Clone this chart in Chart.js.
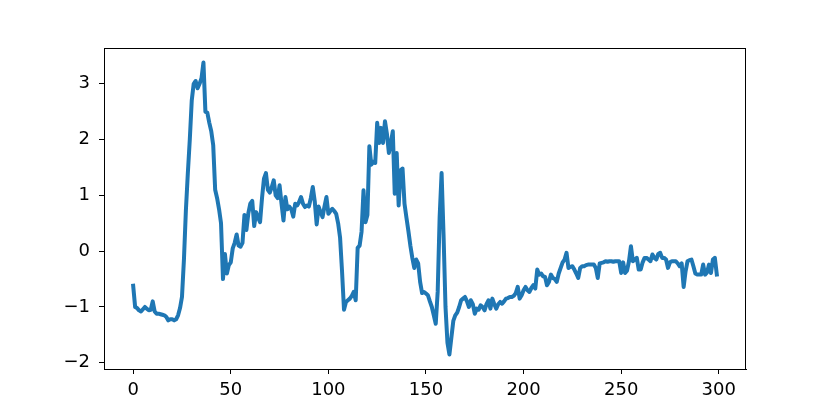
<!DOCTYPE html>
<html>
<head>
<meta charset="utf-8">
<script src="https://cdn.jsdelivr.net/npm/chart.js@4"></script>
<style>
  html, body { margin: 0; padding: 0; background: #fff; }
  canvas { display: block; }
</style>
</head>
<body>
<canvas id="c" width="830" height="415"></canvas>
<script>
const seriesValues = [
  -0.62, -1.00, -1.02, -1.06, -1.08, -1.04, -1.00, -1.03, -1.06, -1.05,
  -0.90, -1.08, -1.12, -1.12, -1.13, -1.14, -1.15, -1.18, -1.24, -1.22,
  -1.22, -1.24, -1.22, -1.15, -1.02, -0.82, -0.15, 0.73, 1.40, 2.00,
  2.70, 3.00, 3.05, 2.92, 3.00, 3.10, 3.38, 2.50, 2.48, 2.30,
  2.15, 1.90, 1.10, 0.95, 0.75, 0.50, -0.50, -0.05, -0.40, -0.25,
  -0.20, 0.05, 0.15, 0.30, 0.10, 0.08, 0.15, 0.65, 0.38, 0.68,
  0.85, 0.90, 0.45, 0.70, 0.60, 0.52, 0.95, 1.30, 1.40, 1.10,
  1.05, 1.15, 1.27, 1.00, 0.95, 1.18, 0.85, 0.55, 0.97, 0.75,
  0.80, 0.75, 0.62, 0.85, 0.82, 0.88, 0.97, 0.85, 0.79, 0.82,
  0.80, 0.95, 1.15, 0.90, 0.48, 0.80, 0.70, 0.61, 0.80, 0.97,
  0.67, 0.72, 0.76, 0.72, 0.67, 0.50, 0.24, -0.36, -1.05, -0.91,
  -0.88, -0.85, -0.80, -0.73, -0.88, 0.06, 0.10, 0.35, 1.09, 0.52,
  0.65, 1.88, 1.55, 1.60, 1.58, 2.30, 1.94, 2.21, 1.94, 2.33,
  2.10, 1.76, 1.94, 2.15, 1.03, 1.76, 0.82, 1.45, 1.48, 0.85,
  0.60, 0.36, 0.10, -0.12, -0.30, -0.15, -0.22, -0.55, -0.75, -0.73,
  -0.76, -0.79, -0.90, -1.00, -1.15, -1.30, -0.73, 0.61, 1.40, 0.30,
  -1.00, -1.64, -1.85, -1.55, -1.25, -1.15, -1.10, -1.00, -0.88, -0.85,
  -0.82, -0.90, -1.00, -0.88, -0.95, -1.12, -1.03, -1.05, -0.97, -1.00,
  -1.06, -0.95, -0.88, -1.03, -0.85, -0.95, -1.03, -0.95, -0.91, -0.94,
  -0.90, -0.85, -0.84, -0.82, -0.82, -0.80, -0.75, -0.64, -0.85, -0.79,
  -0.70, -0.64, -0.70, -0.73, -0.66, -0.61, -0.67, -0.33, -0.42, -0.40,
  -0.45, -0.46, -0.61, -0.55, -0.42, -0.48, -0.50, -0.55, -0.40, -0.30,
  -0.20, -0.15, -0.03, -0.30, -0.28, -0.27, -0.33, -0.40, -0.48, -0.30,
  -0.27, -0.27, -0.25, -0.24, -0.24, -0.24, -0.24, -0.30, -0.48, -0.22,
  -0.21, -0.20, -0.18, -0.19, -0.18, -0.18, -0.19, -0.18, -0.18, -0.18,
  -0.39, -0.20, -0.39, -0.35, -0.18, 0.09, -0.18, -0.15, -0.12, -0.33,
  -0.33, -0.20, -0.12, -0.12, -0.15, -0.18, -0.06, -0.12, -0.15, -0.05,
  -0.03, -0.12, -0.12, -0.15, -0.30, -0.20, -0.18, -0.18, -0.18, -0.22,
  -0.27, -0.22, -0.64, -0.36, -0.18, -0.16, -0.15, -0.27, -0.40, -0.42,
  -0.42, -0.42, -0.24, -0.42, -0.38, -0.24, -0.39, -0.15, -0.12, -0.42
];
const xTicks = [0, 50, 100, 150, 200, 250, 300];
const xTickLabels = ['0', '50', '100', '150', '200', '250', '300'];
const yTicks = [-2, -1, 0, 1, 2, 3];
const yTickLabels = ['\u22122', '\u22121', '0', '1', '2', '3'];

const points = seriesValues.map((v, i) => ({ x: i, y: v }));

const n = seriesValues.length - 1;
const yMin = Math.min(...seriesValues), yMax = Math.max(...seriesValues);
const xPad = n * 0.05, yPad = (yMax - yMin) * 0.05;

const frame = {
  id: 'frame',
  afterDraw(chart) {
    const { ctx, chartArea: a } = chart;
    ctx.save();
    ctx.strokeStyle = '#000';
    ctx.lineWidth = 1;
    ctx.strokeRect(Math.round(a.left) + 0.5, Math.round(a.top) + 0.5,
                   Math.round(a.right - a.left) - 1, Math.round(a.bottom - a.top));
    ctx.restore();
  }
};

Chart.defaults.font.family = "'DejaVu Sans', sans-serif";
Chart.defaults.font.size = 18;
Chart.defaults.color = '#000';

new Chart(document.getElementById('c'), {
  type: 'line',
  data: {
    datasets: [{
      data: points,
      borderColor: '#1f77b4',
      borderWidth: 4,
      pointRadius: 0,
      tension: 0,
      fill: false,
      borderJoinStyle: 'round',
      borderCapStyle: 'square'
    }]
  },
  options: {
    responsive: false,
    animation: false,
    events: [],
    layout: { padding: { left: 0, top: 48, right: 84, bottom: 0 } },
    plugins: { legend: { display: false }, tooltip: { enabled: false } },
    scales: {
      x: {
        type: 'linear',
        min: -xPad, max: n + xPad,
        afterBuildTicks: (s) => { s.ticks = xTicks.map(v => ({ value: v })); },
        afterFit: (s) => { s.height = 46; },
        ticks: {
          padding: 6,
          maxRotation: 0,
          callback: (v) => xTickLabels[xTicks.indexOf(v)] ?? ''
        },
        grid: { drawOnChartArea: false, drawTicks: true, tickLength: 5, color: '#000', tickWidth: 1 },
        border: { display: true, color: '#000', width: 1 }
      },
      y: {
        type: 'linear',
        min: yMin - yPad, max: yMax + yPad,
        afterBuildTicks: (s) => { s.ticks = yTicks.map(v => ({ value: v })); },
        afterFit: (s) => { s.width = 104; },
        ticks: {
          padding: 9,
          callback: (v) => yTickLabels[yTicks.indexOf(v)] ?? ''
        },
        grid: { drawOnChartArea: false, drawTicks: true, tickLength: 5, color: '#000', tickWidth: 1 },
        border: { display: true, color: '#000', width: 1 }
      }
    }
  },
  plugins: [frame]
});
</script>
</body>
</html>
